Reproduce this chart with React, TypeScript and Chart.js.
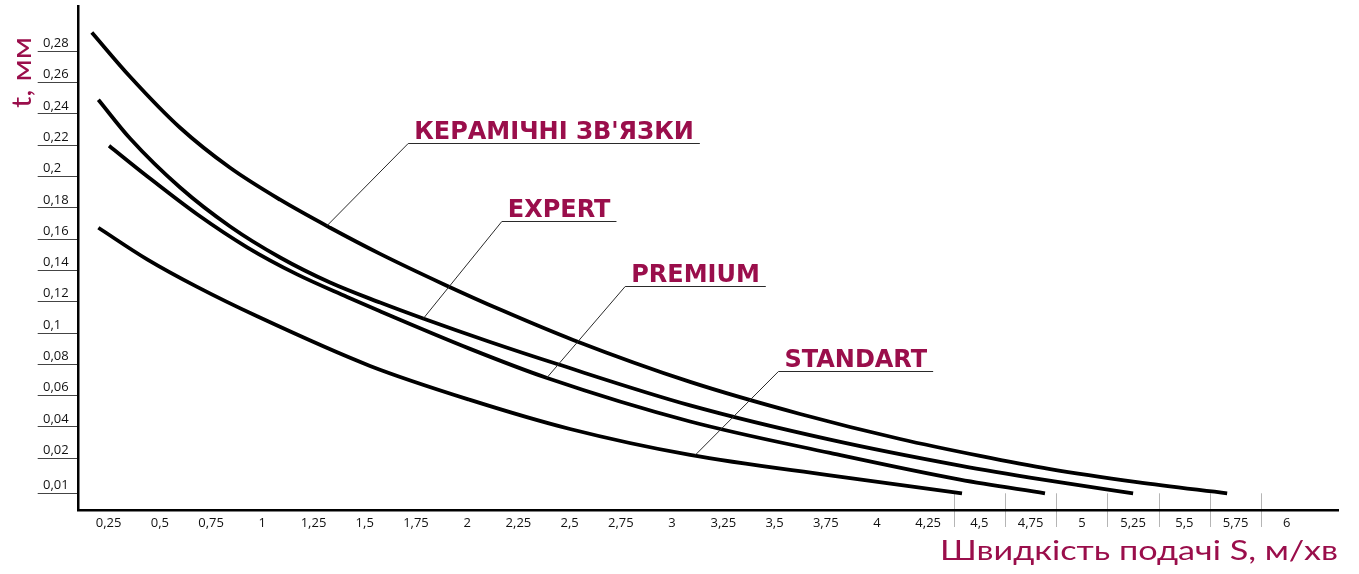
import React, { useEffect, useRef } from 'react';
import { Chart, registerables, LinearScale } from 'chart.js';

const CRIMSON = '#9a0e4b';

// axis ticks
const X_TICKS = [0.25, 0.5, 0.75, 1, 1.25, 1.5, 1.75, 2, 2.25, 2.5, 2.75, 3, 3.25, 3.5, 3.75, 4, 4.25, 4.5, 4.75, 5, 5.25, 5.5, 5.75, 6];
const Y_TICKS = [0.01, 0.02, 0.04, 0.06, 0.08, 0.1, 0.12, 0.14, 0.16, 0.18, 0.2, 0.22, 0.24, 0.26, 0.28];
const SEPARATORS = [4.375, 4.625, 4.875, 5.125, 5.375, 5.625, 5.875];

// series: feed speed S (m/min) vs depth t (mm)
const CERAMIC_S = [0.168, 0.355, 0.599, 0.843, 1.087, 1.331, 1.575, 1.882, 2.175, 2.517, 3.088, 3.625, 4.113, 4.503, 4.845, 5.269, 5.709];
const CERAMIC_T = [0.2921, 0.2638, 0.2312, 0.2056, 0.1852, 0.1673, 0.1506, 0.1314, 0.1142, 0.0956, 0.0688, 0.0483, 0.0323, 0.0215, 0.0169, 0.0132, 0.01];
const EXPERT_S = [0.2, 0.355, 0.599, 0.843, 1.087, 1.331, 1.575, 1.785, 2.112, 2.439, 3.088, 3.771, 4.405, 4.81, 5.25];
const EXPERT_T = [0.2491, 0.2243, 0.193, 0.1681, 0.1483, 0.1323, 0.1195, 0.1093, 0.0943, 0.0802, 0.0538, 0.0319, 0.0179, 0.0139, 0.01];
const PREMIUM_S = [0.252, 0.438, 0.682, 0.926, 1.17, 1.414, 1.575, 2.014, 2.39, 3.088, 3.771, 4.405, 4.82];
const PREMIUM_T = [0.2197, 0.2002, 0.1759, 0.1548, 0.1375, 0.1231, 0.1139, 0.0899, 0.0713, 0.0435, 0.0234, 0.0139, 0.01];
const STANDART_S = [0.2, 0.438, 0.682, 0.975, 1.526, 2.014, 2.502, 3.088, 3.771, 4.415];
const STANDART_T = [0.1673, 0.1471, 0.1295, 0.1107, 0.079, 0.0573, 0.0387, 0.0221, 0.0151, 0.01];

// curve labels: leader start on curve, label underline start
const LABELS = ["КЕРАМІЧНІ ЗВ'ЯЗКИ", 'EXPERT', 'PREMIUM', 'STANDART'];
const LEADER_S = [1.315, 1.786, 2.388, 3.112];
const LEADER_T = [0.1685, 0.1093, 0.0713, 0.0219];
const LABEL_S = [1.712, 2.169, 2.771, 3.519];
const LABEL_T = [0.2216, 0.1713, 0.1302, 0.0758];

const X_TITLE = 'Швидкість подачі S, м/хв';
const Y_TITLE = 't, мм';

// y axis: evenly spaced 0.02 steps, with the 0,01 step drawn slightly stretched
const LOW_STRETCH = 1.119;
const fwd = (v: number) => (v >= 0.02 ? v / 0.02 : 1 - ((0.02 - v) / 0.01) * LOW_STRETCH);
const inv = (u: number) => (u >= 1 ? u * 0.02 : 0.02 - ((1 - u) / LOW_STRETCH) * 0.01);

class StretchScale extends LinearScale {
  static id = 'stretch';
  static defaults = LinearScale.defaults;
  determineDataLimits() {
    super.determineDataLimits();
    this.min = fwd(this.min);
    this.max = fwd(this.max);
  }
  buildTicks() {
    return Y_TICKS.map((v) => ({ value: v }));
  }
  getPixelForValue(v: number) {
    return super.getPixelForValue(fwd(v));
  }
  getValueForPixel(p: number) {
    return inv(super.getValueForPixel(p));
  }
}

Chart.register(...registerables, StretchScale);

const toPoints = (xs: number[], ys: number[]) => xs.map((x, i) => ({ x, y: ys[i] }));
const fmt = (v: number) => String(v).replace('.', ',');

const decorPlugin = {
  id: 'decor',
  beforeDraw(chart: any) {
    const { ctx, chartArea, scales } = chart;
    const x = scales.x, y = scales.y;
    ctx.save();
    ctx.strokeStyle = '#b5b5b5';
    ctx.lineWidth = 1;
    SEPARATORS.forEach((v) => {
      const px = Math.round(x.getPixelForValue(v)) + 0.5;
      ctx.beginPath();
      ctx.moveTo(px, y.getPixelForValue(0.01));
      ctx.lineTo(px, chartArea.bottom + 17);
      ctx.stroke();
    });
    ctx.restore();
  },
  afterDraw(chart: any) {
    const { ctx, scales, chartArea } = chart;
    const x = scales.x, y = scales.y;
    ctx.save();
    ctx.font = 'bold 24px "DejaVu Sans"';
    LABELS.forEach((text, i) => {
      const ax = x.getPixelForValue(LEADER_S[i]);
      const ay = y.getPixelForValue(LEADER_T[i]);
      const lx = x.getPixelForValue(LABEL_S[i]);
      const ly = Math.round(y.getPixelForValue(LABEL_T[i])) + 0.5;
      const w = ctx.measureText(text).width;
      ctx.strokeStyle = '#2a2a2a';
      ctx.lineWidth = 1;
      ctx.beginPath();
      ctx.moveTo(ax, ay);
      ctx.lineTo(lx, ly);
      ctx.lineTo(lx + 6 + w + 6, ly);
      ctx.stroke();
      ctx.fillStyle = CRIMSON;
      ctx.textAlign = 'left';
      ctx.textBaseline = 'alphabetic';
      ctx.fillText(text, lx + 6, ly - 4.5);
    });
    ctx.restore();

    // x axis title (wide geometric face imitated by horizontal stretch)
    ctx.save();
    ctx.font = '400 27px Lato';
    const wx = ctx.measureText(X_TITLE).width;
    ctx.translate(chartArea.right, 560);
    ctx.scale(398 / wx, 1);
    ctx.fillStyle = CRIMSON;
    ctx.textAlign = 'right';
    ctx.textBaseline = 'alphabetic';
    ctx.fillText(X_TITLE, 0, 0);
    ctx.restore();

    // y axis title
    ctx.save();
    ctx.font = '400 27px Lato';
    const wy = ctx.measureText(Y_TITLE).width;
    ctx.translate(31, 72.5);
    ctx.rotate(-Math.PI / 2);
    ctx.scale(71 / wy, 1);
    ctx.fillStyle = CRIMSON;
    ctx.textAlign = 'center';
    ctx.textBaseline = 'alphabetic';
    ctx.fillText(Y_TITLE, 0, 0);
    ctx.restore();
  },
};

export default function App() {
  const ref = useRef<HTMLCanvasElement | null>(null);
  useEffect(() => {
    if (!ref.current) return;
    const line = (xs: number[], ys: number[], label: string) => ({
      label,
      data: toPoints(xs, ys),
      borderColor: '#000',
      borderWidth: 3.8,
      borderCapStyle: 'butt',
      pointRadius: 0,
      fill: false,
      cubicInterpolationMode: 'monotone',
    });
    const chart = new Chart(ref.current, {
      type: 'line',
      data: {
        datasets: [
          line(CERAMIC_S, CERAMIC_T, LABELS[0]),
          line(EXPERT_S, EXPERT_T, LABELS[1]),
          line(PREMIUM_S, PREMIUM_T, LABELS[2]),
          line(STANDART_S, STANDART_T, LABELS[3]),
        ] as any,
      },
      options: {
        animation: false,
        responsive: true,
        maintainAspectRatio: false,
        layout: { autoPadding: false, padding: { left: 43, top: 6, right: 21, bottom: 0 } },
        plugins: { legend: { display: false }, tooltip: { enabled: false } },
        scales: {
          x: {
            type: 'linear',
            min: 0.104,
            max: 6.25,
            afterBuildTicks: (scale: any) => {
              scale.ticks = X_TICKS.map((v) => ({ value: v }));
            },
            afterFit: (scale: any) => {
              scale.height = 64;
              scale.paddingLeft = 0;
              scale.paddingRight = 0;
            },
            grid: { display: true, drawOnChartArea: false, drawTicks: false },
            border: { display: true, color: '#000', width: 2.5 },
            ticks: {
              autoSkip: false,
              maxRotation: 0,
              padding: 5,
              color: '#111',
              font: { family: '"Open Sans"', size: 13 },
              callback: (v: any) => fmt(Number(v)),
            },
          },
          y: {
            type: 'stretch' as any,
            min: 0.00523,
            max: 0.309,
            afterFit: (scale: any) => {
              scale.width = 35.7;
              scale.paddingTop = 0;
              scale.paddingBottom = 0;
            },
            grid: { display: true, drawOnChartArea: false, drawTicks: true, tickLength: 41, tickColor: '#444', tickWidth: 1 },
            border: { display: true, color: '#000', width: 2.5 },
            ticks: {
              autoSkip: false,
              crossAlign: 'far',
              labelOffset: -8,
              color: '#111',
              font: { family: '"Open Sans"', size: 13 },
              callback: (v: any) => fmt(Number(v)),
            },
          },
        },
      } as any,
      plugins: [decorPlugin],
    });
    return () => chart.destroy();
  }, []);
  return (
    <div style={{ position: 'absolute', left: 0, top: 0, width: 1359, height: 574 }}>
      <canvas ref={ref} />
    </div>
  );
}
